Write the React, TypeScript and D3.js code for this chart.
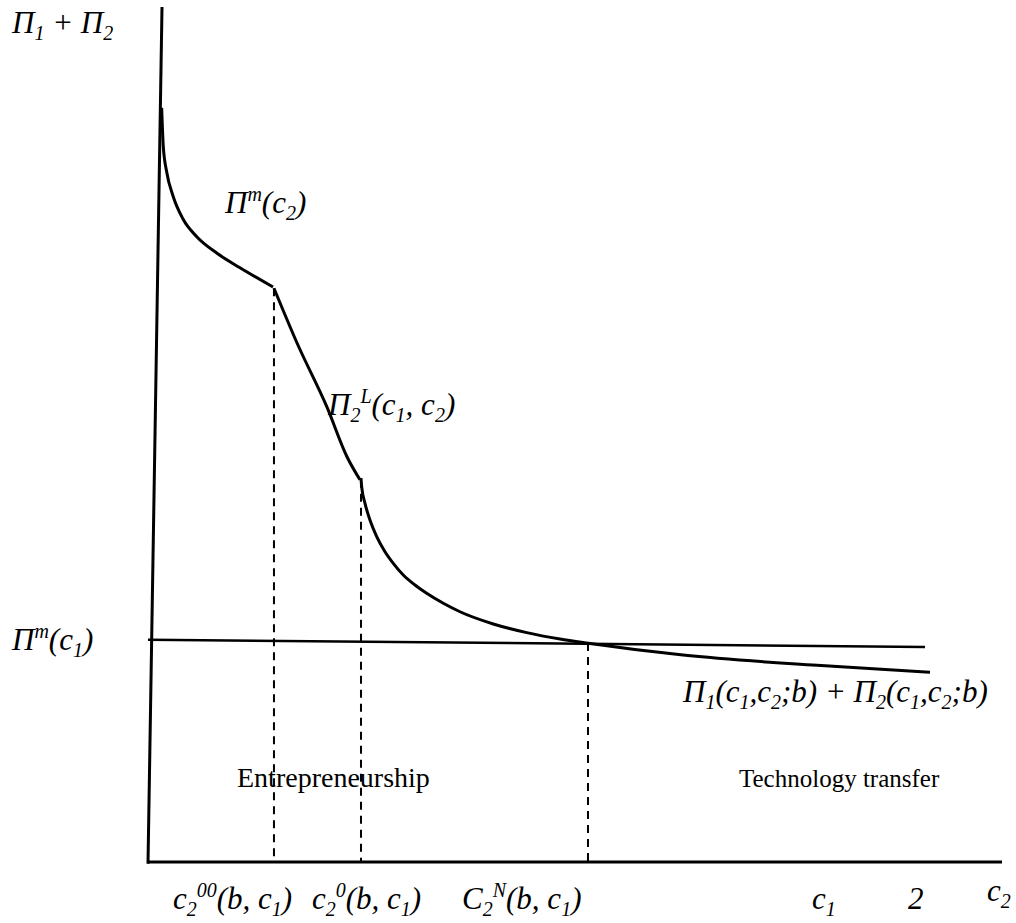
import React from "react";
import * as d3 from "d3";

// profit curve pieces, in chart units (c2 on x, Π1 + Π2 on y)
const monopolyCurve: [number, number][] = [
  [1.6, 88.2], [1.79, 83.7], [2.19, 80.7], [2.93, 77.9], [4.1, 75.2],
  [5.74, 73.1], [8.08, 71.2], [10.77, 69.5], [14.64, 67.25],
];
const limitCurve: [number, number][] = [
  [14.75, 67.1], [17.45, 60.7], [20.96, 53.2], [23.3, 47.4], [24.82, 44.7],
];
const duopolyCurve: [number, number][] = [
  [24.94, 44.9], [25.02, 43.89], [25.41, 41.95], [25.99, 40.0], [26.78, 38.05],
  [27.75, 36.29], [28.72, 34.93], [29.89, 33.57], [31.26, 32.4], [32.63, 31.43],
  [34.58, 30.26], [36.53, 29.27], [40.43, 27.84], [44.35, 26.83], [48.24, 26.08],
  [51.56, 25.58], [62.65, 24.2], [78.34, 23.0], [91.57, 22.2],
];
const monopolyC1Line: [number, number][] = [[0, 26.0], [90.98, 25.15]];
const yAxisLine: [number, number][] = [[0, -0.2], [1.64, 100]];
const xAxisLine: [number, number][] = [[0, 0], [100, 0]];
// dashed thresholds: [x, top y]
const thresholds: [number, number][] = [[14.75, 67.1], [24.94, 44.7], [51.52, 25.6]];

type Part = { t: string; s?: "sub" | "sup" };
type Label = { x: number; y: number; parts: Part[]; italic: boolean; size: number };

const labels: Label[] = [
  { x: 12, y: 33, size: 31, italic: true, parts: [{ t: "Π" }, { t: "1", s: "sub" }, { t: " + Π" }, { t: "2", s: "sub" }] },
  { x: 225, y: 213, size: 31, italic: true, parts: [{ t: "Π" }, { t: "m", s: "sup" }, { t: "(c" }, { t: "2", s: "sub" }, { t: ")" }] },
  { x: 328, y: 415, size: 31, italic: true, parts: [{ t: "Π" }, { t: "2", s: "sub" }, { t: "L", s: "sup" }, { t: "(c" }, { t: "1", s: "sub" }, { t: ", c" }, { t: "2", s: "sub" }, { t: ")" }] },
  { x: 12, y: 650, size: 31, italic: true, parts: [{ t: "Π" }, { t: "m", s: "sup" }, { t: "(c" }, { t: "1", s: "sub" }, { t: ")" }] },
  { x: 683, y: 702, size: 31, italic: true, parts: [{ t: "Π" }, { t: "1", s: "sub" }, { t: "(c" }, { t: "1", s: "sub" }, { t: ",c" }, { t: "2", s: "sub" }, { t: ";b) + Π" }, { t: "2", s: "sub" }, { t: "(c" }, { t: "1", s: "sub" }, { t: ",c" }, { t: "2", s: "sub" }, { t: ";b)" }] },
  { x: 237, y: 787, size: 28, italic: false, parts: [{ t: "Entrepreneurship" }] },
  { x: 739, y: 787, size: 25, italic: false, parts: [{ t: "Technology transfer" }] },
  { x: 173, y: 909, size: 31, italic: true, parts: [{ t: "c" }, { t: "2", s: "sub" }, { t: "00", s: "sup" }, { t: "(b, c" }, { t: "1", s: "sub" }, { t: ")" }] },
  { x: 312, y: 909, size: 31, italic: true, parts: [{ t: "c" }, { t: "2", s: "sub" }, { t: "0", s: "sup" }, { t: "(b, c" }, { t: "1", s: "sub" }, { t: ")" }] },
  { x: 462, y: 909, size: 31, italic: true, parts: [{ t: "C" }, { t: "2", s: "sub" }, { t: "N", s: "sup" }, { t: "(b, c" }, { t: "1", s: "sub" }, { t: ")" }] },
  { x: 812, y: 909, size: 31, italic: true, parts: [{ t: "c" }, { t: "1", s: "sub" }] },
  { x: 908, y: 909, size: 31, italic: true, parts: [{ t: "2" }] },
  { x: 987, y: 901, size: 31, italic: true, parts: [{ t: "c" }, { t: "2", s: "sub" }] },
];

function MathText({ label }: { label: Label }) {
  const sub = Math.round(label.size * 0.66);
  const shiftOf = (s?: string) => (s === "sub" ? label.size * 0.23 : s === "sup" ? -label.size * 0.4 : 0);
  let prev = 0;
  return (
    <text
      x={label.x}
      y={label.y}
      fontFamily="'Liberation Serif', 'Times New Roman', serif"
      fontStyle={label.italic ? "italic" : "normal"}
      fontSize={label.size}
      fill="#000"
    >
      {label.parts.map((p, i) => {
        const cur = shiftOf(p.s);
        const dy = cur - prev;
        prev = cur;
        return (
          <tspan key={i} dy={dy} fontSize={p.s ? sub : label.size}>
            {p.t}
          </tspan>
        );
      })}
    </text>
  );
}

export default function App() {
  const width = 1016;
  const height = 923;
  const x = d3.scaleLinear().domain([0, 100]).range([148, 1002]);
  const y = d3.scaleLinear().domain([0, 100]).range([862, 7]);

  const straight = d3.line<[number, number]>().x((d) => x(d[0])).y((d) => y(d[1]));
  const smooth = d3
    .line<[number, number]>()
    .x((d) => x(d[0]))
    .y((d) => y(d[1]))
    .curve(d3.curveMonotoneX);

  return (
    <svg width={width} height={height} style={{ position: "absolute", left: 0, top: 0, background: "#fff" }}>
      <path d={straight(yAxisLine) ?? ""} stroke="#000" strokeWidth={3} fill="none" />
      <path d={straight(xAxisLine) ?? ""} stroke="#000" strokeWidth={3} fill="none" />
      <path d={straight(monopolyC1Line) ?? ""} stroke="#000" strokeWidth={2.5} fill="none" />
      {thresholds.map(([tx, ty], i) => (
        <line
          key={i}
          x1={x(tx)}
          x2={x(tx)}
          y1={y(ty)}
          y2={y(0)}
          stroke="#000"
          strokeWidth={2}
          strokeDasharray="8,6"
        />
      ))}
      <path d={smooth(monopolyCurve) ?? ""} stroke="#000" strokeWidth={3} fill="none" />
      <path d={smooth(limitCurve) ?? ""} stroke="#000" strokeWidth={3} fill="none" />
      <path d={smooth(duopolyCurve) ?? ""} stroke="#000" strokeWidth={3} fill="none" />
      {labels.map((l, i) => (
        <MathText key={i} label={l} />
      ))}
    </svg>
  );
}
